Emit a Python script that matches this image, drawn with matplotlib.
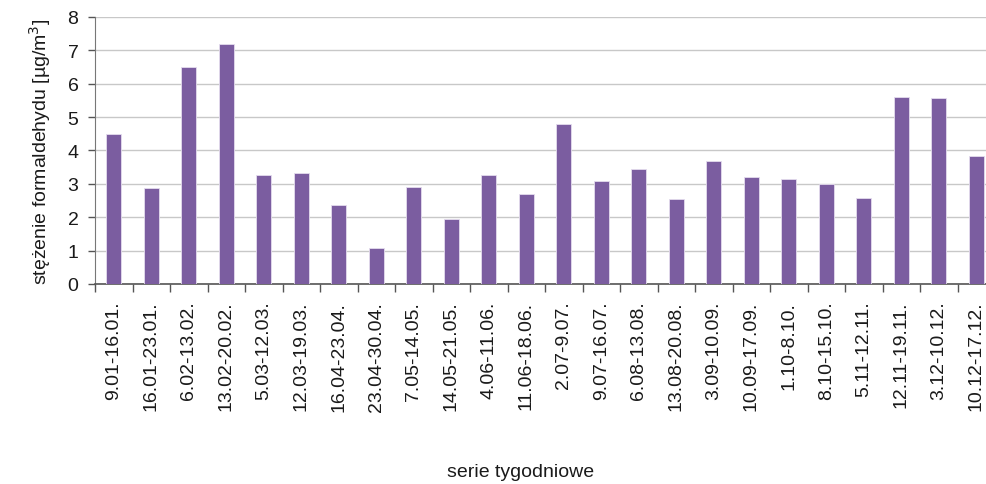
import numpy as np
import matplotlib
matplotlib.use("Agg")
import matplotlib.pyplot as plt

# dane
serie = ['9.01-16.01.', '16.01-23.01.', '6.02-13.02.', '13.02-20.02.', '5.03-12.03.',
         '12.03-19.03.', '16.04-23.04.', '23.04-30.04.', '7.05-14.05.', '14.05-21.05.',
         '4.06-11.06.', '11.06-18.06.', '2.07-9.07.', '9.07-16.07.', '6.08-13.08.',
         '13.08-20.08.', '3.09-10.09.', '10.09-17.09.', '1.10-8.10.', '8.10-15.10.',
         '5.11-12.11.', '12.11-19.11.', '3.12-10.12.', '10.12-17.12.']
stezenie = [4.48, 2.87, 6.5, 7.2, 3.26, 3.32, 2.37, 1.07, 2.9, 1.94, 3.28, 2.69,
            4.79, 3.08, 3.46, 2.55, 3.7, 3.21, 3.15, 2.99, 2.58, 5.59, 5.56, 3.83]
y_ticks = [0, 1, 2, 3, 4, 5, 6, 7, 8]

plt.rcParams['font.family'] = ['Liberation Sans', 'DejaVu Sans']

fig = plt.figure(figsize=(9.87, 4.85), dpi=100)
ax = fig.add_axes([0.0963, 0.4124, 0.912, 0.5505])

x = np.arange(len(serie))
ax.bar(x, stezenie, width=0.4, color='#7B5DA0', edgecolor='#E4DCEE', linewidth=0.6, zorder=3)

ax.set_xlim(-0.5, len(serie) - 0.5)
ax.set_ylim(0, 8)
ax.set_yticks(y_ticks)
ax.yaxis.grid(True, color='#C8C8C8', linewidth=1.0, zorder=0)

# podpisy osi x w srodku kategorii, kreski na granicach
ax.set_xticks(x)
ax.set_xticklabels(serie, rotation=90, fontsize=14, color='#1a1a1a')
ax.tick_params(axis='x', which='major', length=0, pad=12)
ax.set_xticks(np.arange(len(serie) + 1) - 0.5, minor=True)
ax.tick_params(axis='x', which='minor', length=6, width=1.0, color='#555555')
ax.tick_params(axis='y', length=5, width=1.0, color='#555555', pad=7, labelsize=14, labelcolor='#1a1a1a')

for s in ['top', 'right']:
    ax.spines[s].set_visible(False)
ax.spines['left'].set_color('#777777')
ax.spines['bottom'].set_color('#555555')
ax.spines['bottom'].set_linewidth(1.2)

ax.set_ylabel('stężenie formaldehydu [µg/m$^3$]', fontsize=14, color='#1a1a1a', labelpad=10)
fig.text(0.527, 0.025, 'serie tygodniowe', ha='center', va='center', fontsize=14,
         color='#1a1a1a')

fig.savefig('out.png', dpi=100)
